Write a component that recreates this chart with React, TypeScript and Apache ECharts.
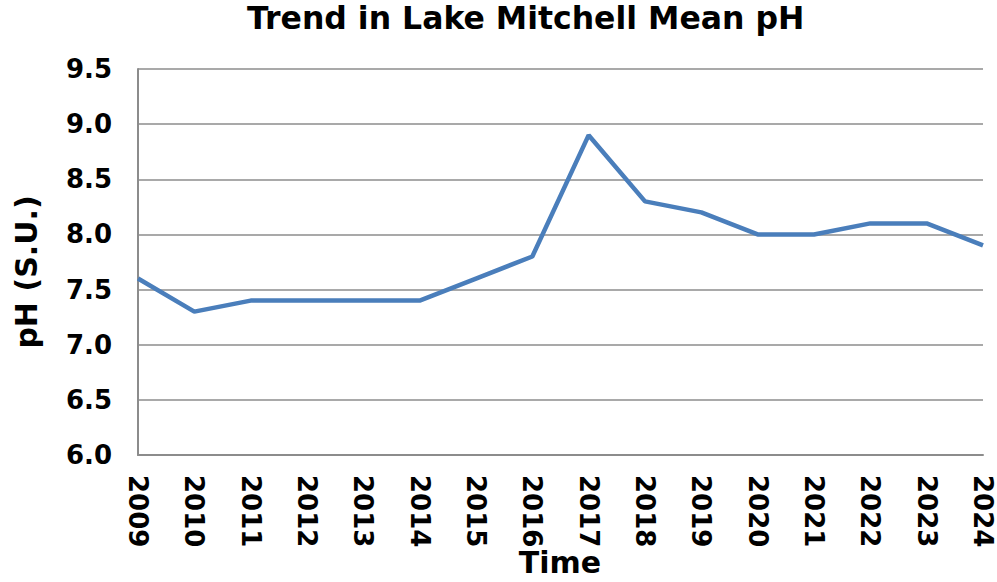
import React, { useEffect, useRef } from "react";
import * as echarts from "echarts";

const years = ["2009","2010","2011","2012","2013","2014","2015","2016","2017","2018","2019","2020","2021","2022","2023","2024"];
const phValues = [7.6, 7.3, 7.4, 7.4, 7.4, 7.4, 7.6, 7.8, 8.9, 8.3, 8.2, 8.0, 8.0, 8.1, 8.1, 7.9];
const titleText = "Trend in Lake Mitchell Mean pH";
const yAxisName = "pH (S.U.)";
const xAxisName = "Time";

export default function App() {
  const ref = useRef<HTMLDivElement>(null);
  useEffect(() => {
    if (!ref.current) return;
    document.documentElement.style.overflow = "hidden";
    document.body.style.margin = "0";
    document.body.style.overflow = "hidden";
    const chart = echarts.init(ref.current, null, { renderer: "svg" });
    const font = "DejaVu Sans, Verdana, sans-serif";
    chart.setOption({
      animation: false,
      backgroundColor: "#ffffff",
      title: {
        text: titleText,
        left: 242,
        top: -3,
        textStyle: { fontFamily: font, fontSize: 31.5, fontWeight: "bold", color: "#000" },
      },
      grid: { left: 138, right: 14, top: 69, bottom: 127, containLabel: false, outerBoundsMode: "none" },
      graphic: [
        {
          type: "text",
          x: 26,
          y: 272,
          rotation: Math.PI / 2,
          style: {
            text: yAxisName,
            fontFamily: font,
            fontSize: 30,
            fontWeight: "bold",
            fill: "#000",
            textAlign: "center",
            textVerticalAlign: "middle",
          },
        },
        {
          type: "text",
          x: 560,
          y: 562,
          style: {
            text: xAxisName,
            fontFamily: font,
            fontSize: 30,
            fontWeight: "bold",
            fill: "#000",
            textAlign: "center",
            textVerticalAlign: "middle",
          },
        },
      ],
      xAxis: {
        type: "category",
        data: years,
        boundaryGap: false,
        axisLine: { lineStyle: { color: "#8c8c8c", width: 2 } },
        axisTick: { show: false },
        axisLabel: {
          rotate: -90,
          margin: 20,
          interval: 0,
          fontFamily: font,
          fontSize: 26,
          fontWeight: "bold",
          color: "#000",
        },
        splitLine: { show: false },
      },
      yAxis: {
        type: "value",
        min: 6,
        max: 9.5,
        interval: 0.5,
        axisLine: { show: true, lineStyle: { color: "#8c8c8c", width: 2 } },
        axisTick: { show: false },
        axisLabel: {
          margin: 26,
          fontFamily: font,
          fontSize: 26,
          fontWeight: "bold",
          color: "#000",
          formatter: (v: number) => v.toFixed(1),
        },
        splitLine: { lineStyle: { color: "#8c8c8c", width: 1.5 } },
      },
      series: [
        {
          type: "line",
          data: phValues,
          showSymbol: false,
          symbol: "none",
          lineStyle: { color: "#4a7ebb", width: 4.5 },
          itemStyle: { color: "#4a7ebb" },
        },
      ],
    });
    return () => chart.dispose();
  }, []);
  return (
    <div
      ref={ref}
      style={{ position: "absolute", left: 0, top: 0, width: 997, height: 582, overflow: "hidden" }}
    />
  );
}
